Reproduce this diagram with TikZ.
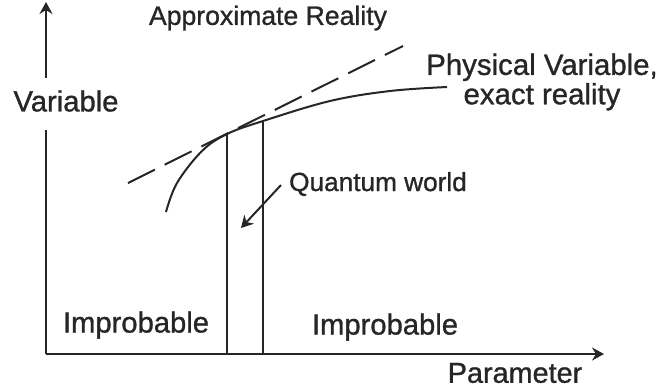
\documentclass[tikz,border=0pt]{standalone}
\usepackage{fontspec}
\setmainfont{Liberation Sans}
\usetikzlibrary{arrows.meta}
\newcommand{\lblsz}[1]{\font\lbltmpfont="Liberation Sans:embolden=1.0" at #1pt\lbltmpfont\baselineskip=14pt\relax}
\begin{document}
\begin{tikzpicture}[x=0.5pt,y=-0.5pt,
  ax/.style={line width=1pt,draw=black!85},
  tip/.style={-{Stealth[length=6pt,width=6.5pt,inset=2pt]}},
  lbl/.style={inner sep=0pt,text=black!85},
  curvestyle/.style={line width=1pt,draw=black!85},
  dashstyle/.style={line width=1pt,draw=black!85,dash pattern=on 15pt off 5.5pt}]
\useasboundingbox (0,0) rectangle (663,387);
% axes
\coordinate (O) at (46,354);
\coordinate (ytop) at (46,2);
\coordinate (ygapA) at (46,130);
\coordinate (ygapB) at (46,78);
\coordinate (xend) at (604,354);
\draw[ax] (O) -- (ygapA);
\draw[ax,tip] (ygapB) -- (ytop);
\draw[ax,tip] (O) -- (xend);
% curve
\coordinate (c1) at (227,134);
\coordinate (c2) at (263,121);
\draw[curvestyle] plot[smooth,tension=0.6] coordinates {(166,212) (177,183) (202,151) (227,134) (263,121) (330,101) (390,91) (447,87)};
% tangent
\coordinate (t1) at (128,183);
\coordinate (t2) at (403,46);
\draw[dashstyle] (t1) -- (t2);
% vertical lines
\coordinate (b1) at (227,354);
\coordinate (b2) at (263,354);
\draw[ax] (b1) -- (c1);
\draw[ax] (b2) -- (c2);
% labels
\node[lbl] (approx) at (268,18) {\lblsz{13.3}Approximate Reality};
\node[lbl] (var) at (66,101) {\lblsz{14.6}Variable};
\node[lbl,align=center] (phys) at (542,82) {\lblsz{14.7}Physical Variable,\\\lblsz{14.7}exact reality};
\node[lbl] (qw) at (378,184) {\lblsz{13.1}Quantum world};
\node[lbl] (imp1) at (136,325) {\lblsz{14.6}Improbable};
\node[lbl] (imp2) at (385,327) {\lblsz{14.6}Improbable};
\node[lbl] (par) at (515,373) {\lblsz{14.4}Parameter};
% quantum arrow
\coordinate (qa) at (281,185);
\coordinate (qb) at (241,228);
\draw[ax,tip] (qa) -- (qb);
\end{tikzpicture}
\end{document}
